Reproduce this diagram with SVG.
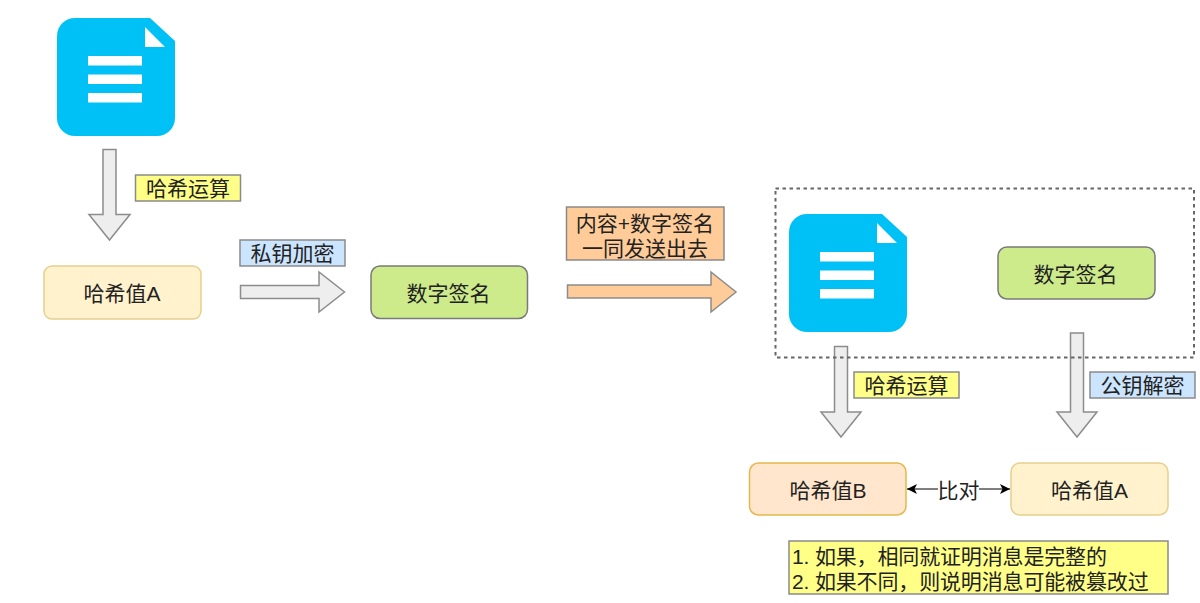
<svg xmlns="http://www.w3.org/2000/svg" width="1200" height="603" viewBox="0 0 1200 603">
  <style>
    text { font-family: "Liberation Sans", "Noto Sans CJK SC", sans-serif; font-size: 21px; fill: #222; text-anchor: middle; dominant-baseline: central; }
    .box { stroke-width: 1.5; }
    .tag { stroke: #8a8a8a; stroke-width: 1.5; }
    .arrow { fill: #eeeeee; stroke: #8c8c8c; stroke-width: 1.5; stroke-linejoin: miter; }
    .send { fill: #ffcc99; stroke: #8c8c8c; stroke-width: 1.5; }
    .yellow { fill: #ffff88; }
    .blue { fill: #cce5ff; }
    .orange { fill: #ffcc99; }
    .green { fill: #cdeb8b; stroke: #7a7a7a; }
    .cream { fill: #fff2cc; stroke: #e6d08f; }
    .peach { fill: #ffe6cc; stroke: #e8b64c; }
    .doc-body { fill: #00c1f5; }
    .doc-mark { fill: #ffffff; }
    .left { text-anchor: start; letter-spacing: -0.15px; }
  </style>
  <defs>
    <g id="doc">
      <path class="doc-body" d="M18 0H93L118 23V100A18 18 0 0 1 100 118H18A18 18 0 0 1 0 100V18A18 18 0 0 1 18 0Z"/>
      <path class="doc-mark" d="M88 9V29H108Z"/>
      <rect class="doc-mark" x="31" y="38" width="54" height="9.5"/>
      <rect class="doc-mark" x="31" y="56.500" width="54" height="9.500"/>
      <rect class="doc-mark" x="31" y="75" width="54" height="9.500"/>
    </g>
    <marker id="tip" markerWidth="12" markerHeight="10" refX="10" refY="5" orient="auto-start-reverse" markerUnits="userSpaceOnUse">
      <path d="M0 0L10 5L0 10L2.500 5Z" fill="#000"/>
    </marker>
  </defs>

  <rect width="1200" height="603" fill="#ffffff"/>

  <g id="connectors">
    <path class="arrow" d="M103 149.500H116V214.500H130L109.500 240L89 214.500H103Z"/>
    <path class="arrow" d="M240.500 285.500H319V272L344.500 292L319 312V298.500H240.500Z"/>
    <path class="send" d="M567.500 285H711V272L736 292L711 312V298H567.500Z"/>
    <path class="arrow" d="M834.500 346.500H847.500V412H861L841 437L821 412H834.500Z"/>
    <path class="arrow" d="M1070.500 333H1083.500V412H1097L1077 437L1057 412H1070.500Z"/>
    <path d="M907 489H938M979 489H1010" fill="none" stroke="#000" stroke-width="1.200" marker-start="url(#tip)" marker-end="url(#tip)"/>
  </g>

  <g id="doc-source"><use href="#doc" x="57" y="18"/></g>

  <g id="label-hash-1">
    <rect class="tag yellow" x="135.500" y="175" width="105" height="26"/>
    <text x="188" y="188.500">哈希运算</text>
  </g>
  <g id="label-private-key">
    <rect class="tag blue" x="240" y="240" width="105" height="26"/>
    <text x="292.500" y="253.500">私钥加密</text>
  </g>
  <g id="hash-a-source">
    <rect class="box cream" x="44" y="266" width="157" height="53" rx="8"/>
    <text x="122" y="293">哈希值A</text>
  </g>
  <g id="signature-source">
    <rect class="box green" x="371" y="266" width="156.500" height="52.500" rx="9"/>
    <text x="448.500" y="293">数字签名</text>
  </g>
  <g id="label-send">
    <rect class="tag orange" x="566.500" y="207" width="157.500" height="53"/>
    <text><tspan x="645" y="223">内容+数字签名</tspan><tspan x="645" y="248">一同发送出去</tspan></text>
  </g>

  <g id="received-group">
    <rect x="775.500" y="188.500" width="418.500" height="169" fill="none" stroke="#666" stroke-width="2" stroke-dasharray="3.500 3.500"/>
  </g>
  <g id="doc-received"><use href="#doc" x="789" y="214"/></g>
  <g id="signature-received">
    <rect class="box green" x="998" y="247" width="157" height="52" rx="9"/>
    <text x="1075.500" y="274">数字签名</text>
  </g>
  <g id="label-hash-2">
    <rect class="tag yellow" x="854" y="372" width="105" height="26"/>
    <text x="906.500" y="385.500">哈希运算</text>
  </g>
  <g id="label-public-key">
    <rect class="tag blue" x="1090" y="372" width="105" height="26"/>
    <text x="1142.500" y="385.500">公钥解密</text>
  </g>
  <g id="hash-b">
    <rect class="box peach" x="749.500" y="463" width="156.500" height="52" rx="9"/>
    <text x="828" y="490">哈希值B</text>
  </g>
  <g id="compare-label"><text x="958.500" y="490">比对</text></g>
  <g id="hash-a-received">
    <rect class="box cream" x="1011" y="463" width="157" height="52" rx="9"/>
    <text x="1089.500" y="490">哈希值A</text>
  </g>
  <g id="note">
    <rect class="tag yellow" x="789" y="541" width="379" height="53"/>
    <text class="left"><tspan x="792" y="556">1. 如果，相同就证明消息是完整的</tspan><tspan x="792" y="581">2. 如果不同，则说明消息可能被篡改过</tspan></text>
  </g>
</svg>
